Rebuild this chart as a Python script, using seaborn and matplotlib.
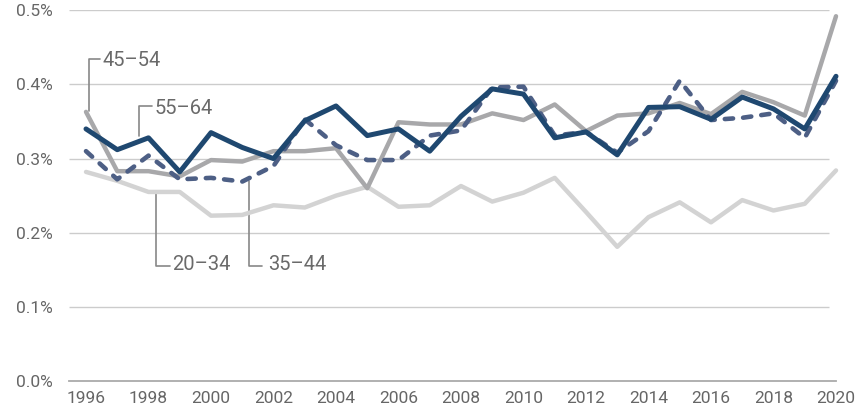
import matplotlib
matplotlib.use("Agg")
import matplotlib.pyplot as plt
import seaborn as sns
import pandas as pd

years = list(range(1996, 2021))
age_20_34 = [0.282, 0.270, 0.255, 0.255, 0.223, 0.224, 0.237, 0.234, 0.250, 0.262,
             0.235, 0.237, 0.263, 0.242, 0.254, 0.274, 0.228, 0.181, 0.221, 0.241,
             0.214, 0.244, 0.230, 0.239, 0.284]
age_35_44 = [0.310, 0.272, 0.304, 0.272, 0.274, 0.269, 0.290, 0.353, 0.318, 0.298,
             0.298, 0.331, 0.338, 0.396, 0.397, 0.331, 0.336, 0.308, 0.337, 0.405,
             0.352, 0.355, 0.361, 0.328, 0.405]
age_45_54 = [0.363, 0.283, 0.283, 0.276, 0.298, 0.296, 0.310, 0.310, 0.314, 0.260,
             0.349, 0.346, 0.346, 0.361, 0.352, 0.373, 0.337, 0.358, 0.361, 0.375,
             0.360, 0.390, 0.376, 0.358, 0.492]
age_55_64 = [0.340, 0.312, 0.328, 0.282, 0.335, 0.315, 0.300, 0.351, 0.371, 0.331,
             0.340, 0.310, 0.357, 0.394, 0.387, 0.328, 0.336, 0.305, 0.369, 0.370,
             0.353, 0.383, 0.367, 0.340, 0.411]
series_names = ["20–34", "45–54", "35–44", "55–64"]
y_ticks = [0.0, 0.1, 0.2, 0.3, 0.4, 0.5]
x_ticks = list(range(1996, 2021, 2))

sns.set_theme(style="white")
plt.rcParams["font.family"] = ["Liberation Sans Narrow", "Roboto", "DejaVu Sans"]

df = pd.DataFrame({
    "year": years * 4,
    "value": age_20_34 + age_45_54 + age_35_44 + age_55_64,
    "group": sum([[n] * len(years) for n in series_names], []),
})

fig = plt.figure(figsize=(8.66, 4.15), dpi=100)
ax = fig.add_axes([69 / 866, 34 / 415, (836 - 69) / 866, (381 - 10.3) / 415])

x0 = 1995.456
ax.set_xlim(x0, 2020)
ax.set_ylim(0, 0.5)

# gridlines
ax.hlines(y_ticks[1:], x0, 2019.78, colors="#cccccc", lw=1.0, zorder=0)

styles = {
    "20–34": dict(color="#d3d3d3", lw=3.2, ls="-"),
    "45–54": dict(color="#a8a8aa", lw=3.2, ls="-"),
    "35–44": dict(color="#4d5f85", lw=3.3, ls=(0, (1.8, 2.2))),
    "55–64": dict(color="#1f4870", lw=3.6, ls="-"),
}
for i, name in enumerate(series_names):
    st = styles[name]
    sns.lineplot(data=df[df["group"] == name], x="year", y="value", ax=ax,
                 color=st["color"], linewidth=st["lw"], linestyle=st["ls"],
                 solid_capstyle="round", dash_capstyle="round",
                 solid_joinstyle="round", dash_joinstyle="round",
                 clip_on=False, zorder=2 + i, legend=False)

# axes styling
for s in ["top", "right", "left"]:
    ax.spines[s].set_visible(False)
ax.spines["bottom"].set_color("#aaaaaa")
ax.spines["bottom"].set_linewidth(1.3)
ax.set_xticks(years, minor=False)
ax.set_xticklabels([str(y) if y in x_ticks else "" for y in years])
ax.set_yticks(y_ticks)
ax.set_yticklabels([f"{v:.1f}%" for v in y_ticks])
ax.tick_params(axis="x", direction="inout", length=10, width=1, color="#aaaaaa",
               labelsize=12.5, labelcolor="#666666", pad=2)
ax.tick_params(axis="y", length=0, labelsize=12.5, labelcolor="#666666", pad=12)
ax.set_xlabel("")
ax.set_ylabel("")
ax.grid(False)

# labels with leader lines
lc = "#888888"
tc = "#6a6a6a"
fs = 14.5
def leader(xs, ys, tx, ty, text):
    ax.plot(xs, ys, color=lc, lw=1.2, zorder=1, clip_on=False)
    ax.text(tx, ty, text, color=tc, fontsize=fs, va="center", ha="left")

leader([1996.11, 1996.11, 1996.45], [0.364, 0.434, 0.434], 1996.54, 0.432, "45–54")
leader([1997.71, 1997.71, 1998.11], [0.331, 0.371, 0.371], 1998.2, 0.368, "55–64")
leader([1998.24, 1998.24, 1998.69], [0.254, 0.1546, 0.1546], 1998.75, 0.157, "20–34")
leader([2001.23, 2001.23, 2001.63], [0.270, 0.1546, 0.1546], 2001.82, 0.157, "35–44")

fig.savefig("out.png", dpi=100)
